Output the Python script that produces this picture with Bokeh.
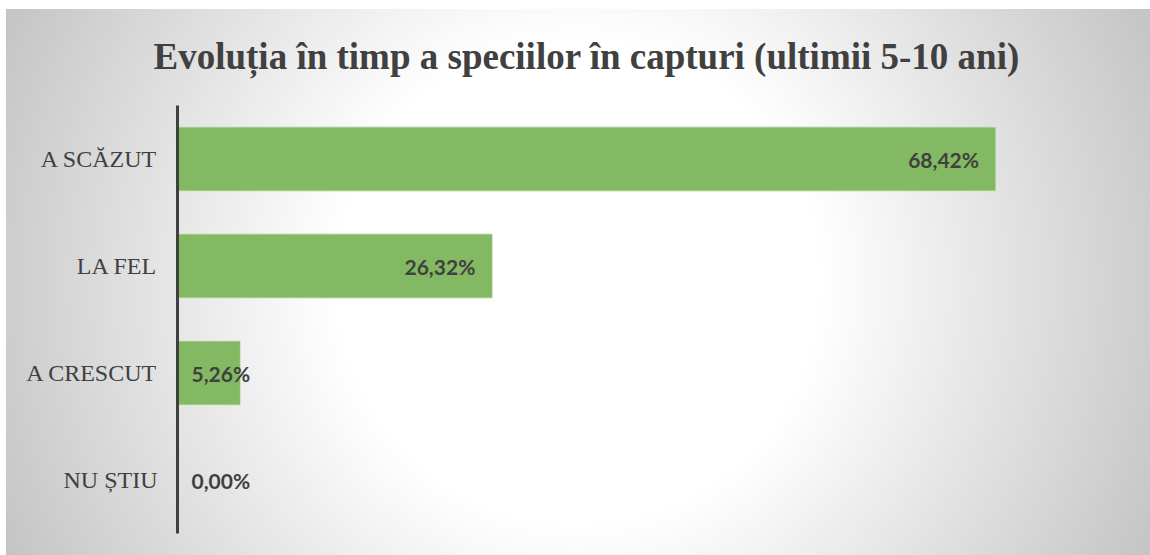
from bokeh.plotting import figure
from bokeh.models import ColumnDataSource, FactorRange, Range1d
from bokeh.core.properties import value
from bokeh.embed import file_html
from bokeh.resources import INLINE

# ---- data ----
categories = ["A SCĂZUT", "LA FEL", "A CRESCUT", "NU ȘTIU"]
percent = [68.42, 26.32, 5.26, 0.00]
title_text = "Evoluția în timp a speciilor în capturi (ultimii 5-10 ani)"

labels = [f"{v:.2f}".replace(".", ",") + "%" for v in percent]

SERIF = "Liberation Serif, Times New Roman, serif"

W, H = 1150, 555
X_MAX = 80
p = figure(
    width=W, height=H,
    y_range=FactorRange(factors=list(reversed(categories))),
    x_range=Range1d(0, X_MAX),
    x_axis_location=None,
    output_backend="svg", toolbar_location=None,
    min_border_left=177, min_border_right=16,
    min_border_top=105, min_border_bottom=22,
    title=title_text,
)
p.title.align = "left"
p.title.offset = -24
p.title.text_font = SERIF
p.title.text_font_style = "bold"
p.title.text_font_size = "37px"
p.title.text_color = "#404040"
p.title.standoff = 58

p.border_fill_color = None
p.background_fill_color = None
p.outline_line_color = None
p.styles = {
    "background-image": "radial-gradient(circle farthest-corner at 50% 50%, #ffffff 0%, #ffffff 38%, #c4c4c4 100%)",
    "background-repeat": "no-repeat",
    "background-position": "6px 9px",
    "background-size": "1144px 546px",
}
p.grid.visible = False

src = ColumnDataSource(dict(cat=categories, val=percent, lab=labels))
p.hbar(y="cat", left=0, right="val", height=0.6, source=src,
       fill_color="#83b962", line_color="#d3e6c6", line_width=1)

inside = [v >= 10 for v in percent]
src_in = ColumnDataSource(dict(
    cat=[c for c, k in zip(categories, inside) if k],
    val=[v for v, k in zip(percent, inside) if k],
    lab=[l for l, k in zip(labels, inside) if k]))
src_base = ColumnDataSource(dict(
    cat=[c for c, k in zip(categories, inside) if not k],
    val=[0 for v, k in zip(percent, inside) if not k],
    lab=[l for l, k in zip(labels, inside) if not k]))

common = dict(text="lab", text_font=value("Lato"), text_font_style="bold",
              text_font_size="21px", text_color="#404040", text_baseline="middle")
p.text(x="val", y="cat", source=src_in, text_align="right", x_offset=-17, **common)
p.text(x="val", y="cat", source=src_base, text_align="left", x_offset=14, **common)

ax = p.yaxis[0]
ax.axis_line_color = "#404040"
ax.axis_line_width = 3
ax.major_tick_line_color = None
ax.minor_tick_line_color = None
ax.major_tick_out = 0
ax.major_tick_in = 0
ax.major_label_standoff = 20
ax.major_label_text_font = SERIF
ax.major_label_text_font_size = "24px"
ax.major_label_text_color = "#404040"

open("out.html", "w").write(file_html(p, INLINE))
